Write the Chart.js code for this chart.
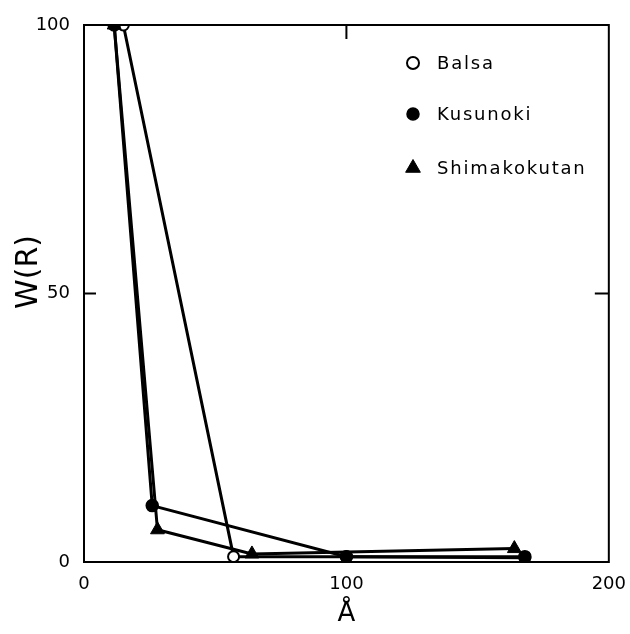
<!DOCTYPE html>
<html>
<head>
<meta charset="utf-8">
<script src="https://cdn.jsdelivr.net/npm/chart.js@4/dist/chart.umd.min.js"></script>
<style>
  html, body { margin: 0; padding: 0; background: #fff; }
  #wrap { width: 630px; height: 634px; }
</style>
</head>
<body>
<div id="wrap"><canvas id="c" width="630" height="634"></canvas></div>
<script>
// ---- data ----
const seriesNames = ['Balsa', 'Kusunoki', 'Shimakokutan'];
const balsaX = [15, 57, 100, 168];
const balsaY = [100, 1, 1, 0.8];
const kusunokiX = [11.5, 26, 100, 168];
const kusunokiY = [100, 10.5, 1, 1];
const shimaX = [11.5, 28, 64, 164];
const shimaY = [100, 6, 1.5, 2.5];
const xTicks = [0, 100, 200];
const yTicks = [0, 50, 100];
const xTitle = 'Å';
const yTitle = 'W(R)';

const toPts = (xs, ys) => xs.map((x, i) => ({x: x, y: ys[i]}));

const FONT = "'DejaVu Sans', sans-serif";

const styles = [
  {pointStyle: 'circle', radius: 5.5, bg: '#fff', bw: 2},
  {pointStyle: 'circle', radius: 6, bg: '#000', bw: 1.5},
  {pointStyle: 'triangle', radius: 8, bg: '#000', bw: 1}
];

const framePlugin = {
  id: 'frame',
  afterDatasetsDraw(chart) {
    const {ctx, chartArea: a, scales} = chart;
    ctx.save();
    ctx.strokeStyle = '#000';
    ctx.lineWidth = 2;
    ctx.strokeRect(a.left, a.top, a.right - a.left, a.bottom - a.top);
    const y50 = scales.y.getPixelForValue(50);
    const x100 = scales.x.getPixelForValue(100);
    ctx.beginPath();
    ctx.moveTo(a.left, y50); ctx.lineTo(a.left + 12, y50);
    ctx.moveTo(a.right, y50); ctx.lineTo(a.right - 14, y50);
    ctx.moveTo(x100, a.top); ctx.lineTo(x100, a.top + 14);
    ctx.moveTo(x100, a.bottom); ctx.lineTo(x100, a.bottom - 10);
    ctx.stroke();
    // y axis title
    ctx.save();
    ctx.translate(29, 272);
    ctx.rotate(-Math.PI / 2);
    ctx.font = '30px ' + FONT;
    ctx.fillStyle = '#000';
    ctx.textAlign = 'center';
    ctx.textBaseline = 'middle';
    ctx.fillText(yTitle, 0, 0);
    ctx.restore();
    ctx.restore();
  }
};

const legendPlugin = {
  id: 'customLegend',
  afterDraw(chart) {
    const {ctx} = chart;
    const ys = [63, 114, 168];
    ctx.save();
    ctx.font = '18px ' + FONT;
    ctx.textBaseline = 'middle';
    if ('letterSpacing' in ctx) ctx.letterSpacing = '1.8px';
    seriesNames.forEach((name, i) => {
      const s = styles[i];
      ctx.fillStyle = s.bg;
      ctx.strokeStyle = '#000';
      ctx.lineWidth = s.bw;
      Chart.helpers.drawPoint(ctx, {pointStyle: s.pointStyle, radius: i === 2 ? 8.5 : 6, borderWidth: s.bw}, 413, ys[i]);
      ctx.fillStyle = '#000';
      ctx.fillText(name, 437, ys[i] + 1);
    });
    ctx.restore();
  }
};

const mk = (label, pts, i, order) => ({
  label: label,
  data: pts,
  showLine: true,
  borderColor: '#000',
  borderWidth: 3,
  pointStyle: styles[i].pointStyle,
  pointRadius: styles[i].radius,
  pointBackgroundColor: styles[i].bg,
  pointBorderColor: '#000',
  pointBorderWidth: styles[i].bw,
  order: order
});

new Chart(document.getElementById('c'), {
  type: 'scatter',
  data: {
    datasets: [
      mk(seriesNames[0], toPts(balsaX, balsaY), 0, 3),
      mk(seriesNames[1], toPts(kusunokiX, kusunokiY), 1, 1),
      mk(seriesNames[2], toPts(shimaX, shimaY), 2, 2)
    ]
  },
  options: {
    responsive: false,
    animation: false,
    layout: { padding: { left: 0, right: 0, top: 25, bottom: 4 } },
    plugins: { legend: { display: false }, tooltip: { enabled: false } },
    scales: {
      x: {
        type: 'linear', min: 0, max: 200,
        afterBuildTicks(s) { s.ticks = xTicks.map(v => ({value: v})); },
        afterFit(s) { s.height = 68; },
        grid: { display: false },
        border: { display: false },
        ticks: { color: '#000', font: { size: 18, family: FONT }, padding: 4 },
        title: { display: true, text: xTitle, color: '#000', font: { size: 26, family: FONT }, padding: { top: 0, bottom: 0 } }
      },
      y: {
        type: 'linear', min: 0, max: 100,
        afterBuildTicks(s) { s.ticks = yTicks.map(v => ({value: v})); },
        afterFit(s) { s.width = 84; },
        grid: { display: false },
        border: { display: false },
        ticks: { color: '#000', font: { size: 18, family: FONT }, padding: 6 }
      }
    }
  },
  plugins: [framePlugin, legendPlugin]
});
</script>
</body>
</html>
